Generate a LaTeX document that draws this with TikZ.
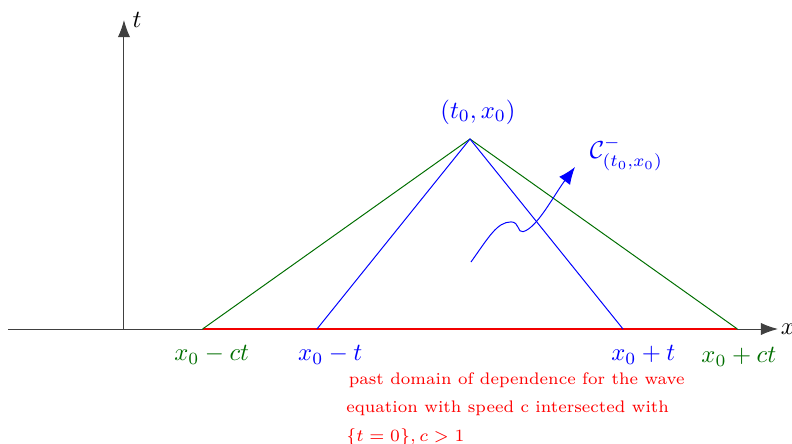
\documentclass[tikz,border=0pt]{standalone}
\usepackage{amsmath}
\usepackage{xcolor}
\usetikzlibrary{arrows.meta, calc}
\definecolor{cgreen}{RGB}{0,110,0}
\tikzset{
  axis/.style={draw=black!75, -{Latex[length=7pt,width=5pt]}},
  cone/.style={line width=0.4pt},
  lbl/.style={inner sep=0pt}
}

\begin{document}
\begin{tikzpicture}
  \def\tz{2.714}%
  \def\xz{4.943}%
  \def\ct{3.82}%
  \def\t{2.186}%
  \useasboundingbox (-1.771,-1.629) rectangle (9.543,4.7);

  %axes
  \coordinate (xl) at (-1.657,0);
  \coordinate (xr) at (9.343,0);
  \coordinate (o) at (0,0);
  \coordinate (tt) at (0,4.414);
  \draw[axis] (xl) -- (xr) node[right, inner sep=1pt] (xlab) {$x$};
  \draw[axis] (o) -- (tt) node[right] (tlab) {$t$};

  %cone points
  \coordinate (apex) at (\xz,\tz);
  \coordinate (gl) at (\xz-\ct,0);
  \coordinate (gr) at (\xz+\ct,0);
  \coordinate (bl) at (\xz-\t,0);
  \coordinate (br) at (\xz+\t,0);

  %domain on t=0
  \draw[red!95!black, line width=1.2pt] (gl) -- (gr);
  %cones
  \draw[cone, cgreen] (gl) -- (apex) -- (gr);
  \draw[cone, blue] (bl) -- (apex) -- (br);

  %labels
  \node[blue] (alab) at (5.057,3.1) {$(t_0,x_0)$};
  \node[cgreen] (glab) at ($(gl)+(0.13,-0.37)$) {$x_0-ct$};
  \node[blue] (blab) at ($(bl)+(0.19,-0.37)$) {$x_0-t$};
  \node[blue] (brlab) at ($(br)+(0.29,-0.37)$) {$x_0+t$};
  \node[cgreen] (grlab) at ($(gr)+(0.02,-0.40)$) {$x_0+ct$};

  %curly arrow
  \coordinate (s) at (4.957,0.957);
  \coordinate (p) at (5.53,1.53);
  \coordinate (d) at (5.70,1.39);
  \coordinate (e) at (6.443,2.314);
  \draw[blue, -{Latex[length=7pt,width=5.5pt]}] (s) .. controls +(0.25,0.35) and +(-0.2,0) .. (p)
    .. controls +(0.12,0) and +(-0.08,-0.02) .. (d)
    .. controls +(0.2,0.05) and +(-0.3,-0.4) .. (e);
  \node[blue, anchor=west] (clab) at (6.53,2.5) {$\mathcal{C}^-_{(t_0,x_0)}$};

  %caption
  \node[red, font=\fontsize{6.8}{8}\selectfont, align=left, anchor=north west, lbl] (cap) at (3.17,-0.62)
    {\hspace{1pt}past domain of dependence for the wave\\[3.5pt]
     equation with speed c intersected with\\[3.5pt]
     $\{t=0\}, c>1$};
\end{tikzpicture}
\end{document}
